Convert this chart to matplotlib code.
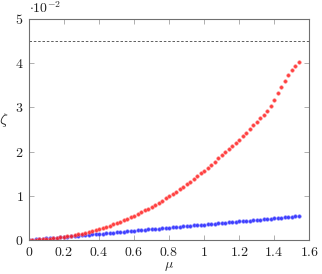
import matplotlib
matplotlib.use('Agg')
import matplotlib.pyplot as plt
from matplotlib.ticker import FuncFormatter, FixedLocator

# ---- data (zeta in units of 1e-2) ----
mu = [0.00, 0.02, 0.04, 0.06, 0.08, 0.10, 0.12, 0.14, 0.16, 0.18,
      0.20, 0.22, 0.24, 0.26, 0.28, 0.30, 0.32, 0.34, 0.36, 0.38,
      0.40, 0.42, 0.44, 0.46, 0.48, 0.50, 0.52, 0.54, 0.56, 0.58,
      0.60, 0.62, 0.64, 0.66, 0.68, 0.70, 0.72, 0.74, 0.76, 0.78,
      0.80, 0.82, 0.84, 0.86, 0.88, 0.90, 0.92, 0.94, 0.96, 0.98,
      1.00, 1.02, 1.04, 1.06, 1.08, 1.10, 1.12, 1.14, 1.16, 1.18,
      1.20, 1.22, 1.24, 1.26, 1.28, 1.30, 1.32, 1.34, 1.36, 1.38,
      1.40, 1.42, 1.44, 1.46, 1.48, 1.50, 1.52, 1.54]

zeta_red = [0.000, 0.003, 0.007, 0.012, 0.018, 0.024, 0.031, 0.040, 0.049, 0.060,
            0.071, 0.084, 0.098, 0.112, 0.128, 0.145, 0.164, 0.183, 0.204, 0.226,
            0.249, 0.274, 0.299, 0.326, 0.354, 0.384, 0.415, 0.447, 0.480, 0.515,
            0.552, 0.589, 0.628, 0.668, 0.710, 0.753, 0.797, 0.843, 0.891, 0.939,
            0.989, 1.041, 1.094, 1.148, 1.204, 1.261, 1.320, 1.381, 1.442, 1.505,
            1.570, 1.636, 1.704, 1.774, 1.845, 1.916, 1.990, 2.062, 2.130, 2.200,
            2.270, 2.350, 2.430, 2.510, 2.590, 2.670, 2.750, 2.820, 2.910, 3.040,
            3.170, 3.320, 3.460, 3.600, 3.730, 3.850, 3.940, 4.020]

zeta_blue = [0.000, 0.007, 0.014, 0.021, 0.028, 0.035, 0.042, 0.049, 0.056, 0.063,
             0.070, 0.077, 0.084, 0.091, 0.098, 0.105, 0.112, 0.119, 0.126, 0.133,
             0.140, 0.147, 0.154, 0.161, 0.168, 0.175, 0.182, 0.189, 0.196, 0.203,
             0.210, 0.217, 0.224, 0.231, 0.238, 0.245, 0.252, 0.259, 0.266, 0.273,
             0.280, 0.287, 0.294, 0.301, 0.308, 0.315, 0.322, 0.329, 0.336, 0.343,
             0.350, 0.357, 0.364, 0.371, 0.378, 0.385, 0.392, 0.399, 0.406, 0.413,
             0.420, 0.427, 0.434, 0.441, 0.448, 0.455, 0.462, 0.469, 0.476, 0.483,
             0.490, 0.497, 0.504, 0.511, 0.518, 0.525, 0.532, 0.539]

threshold = 4.5
xticks = [0, 0.2, 0.4, 0.6, 0.8, 1.0, 1.2, 1.4, 1.6]
yticks = [0, 1, 2, 3, 4, 5]

plt.rcParams['mathtext.fontset'] = 'cm'
plt.rcParams['font.family'] = 'serif'
plt.rcParams['font.serif'] = ['cmr10', 'DejaVu Serif']
plt.rcParams['axes.formatter.use_mathtext'] = True

fig = plt.figure(figsize=(3.22, 2.74), dpi=100)
ax = fig.add_axes([0.090, 0.124, 0.870, 0.807])

ax.axhline(threshold, color='#444444', lw=0.6, ls=(0, (3, 2.2)))
ax.plot(mu, zeta_blue, ls='none', marker='o', ms=2.6, mew=0.4,
        color='#2020ff', mec='#8080ff', alpha=0.85)
ax.plot(mu, zeta_red, ls='none', marker='o', ms=2.6, mew=0.4,
        color='#ff2020', mec='#ff8080', alpha=0.85)

ax.set_xlim(0, 1.6)
ax.set_ylim(0, 5)
ax.xaxis.set_major_locator(FixedLocator(xticks))
ax.yaxis.set_major_locator(FixedLocator(yticks))
fmt = FuncFormatter(lambda v, p: '$%g$' % v)
ax.xaxis.set_major_formatter(fmt)
ax.yaxis.set_major_formatter(fmt)

for s in ax.spines.values():
    s.set_color('#707070')
    s.set_linewidth(0.8)
ax.tick_params(direction='in', length=3.5, width=0.5, color='#909090',
               top=True, right=True, labelsize=10, labelcolor='#222222')
ax.tick_params(axis='x', pad=4)
ax.tick_params(axis='y', pad=4)

ax.set_xlabel(r'$\mu$', fontsize=10, labelpad=1, color='#222222')
ax.set_ylabel(r'$\zeta$', fontsize=11, rotation=0, labelpad=8, color='#222222')
ax.text(0.0, 1.012, r'$\cdot 10^{-2}$', transform=ax.transAxes,
        fontsize=10, ha='left', va='bottom', color='#222222')

fig.savefig('out.png', dpi=100)
